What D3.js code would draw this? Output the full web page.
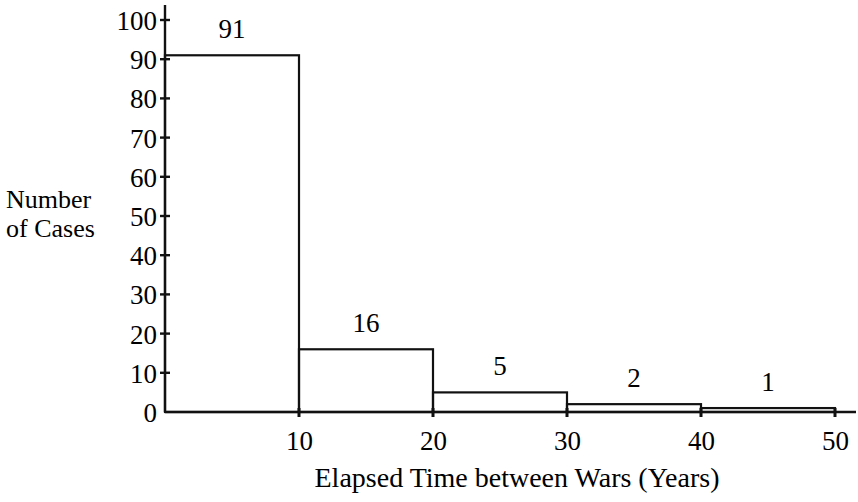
<!DOCTYPE html>
<html>
<head>
<meta charset="utf-8">
<script src="https://cdn.jsdelivr.net/npm/d3@7"></script>
<style>
  html, body { margin: 0; padding: 0; background: #fff; }
  svg { display: block; }
  text { font-family: "Liberation Serif", "Times New Roman", serif; fill: #000; }
</style>
</head>
<body>
<svg id="chart" width="858" height="502"></svg>
<script>
// ---- data ----
const binStarts = [0, 10, 20, 30, 40];
const binEnds   = [10, 20, 30, 40, 50];
const counts    = [91, 16, 5, 2, 1];
const xTickValues = [10, 20, 30, 40, 50];
const yTickValues = [0, 10, 20, 30, 40, 50, 60, 70, 80, 90, 100];
const xTitle = "Elapsed Time between Wars (Years)";
const yTitleLines = ["Number", "of Cases"];

// ---- layout ----
const svg = d3.select("#chart");
const x = d3.scaleLinear().domain([0, 50]).range([165, 835]);
const y = d3.scaleLinear().domain([0, 100]).range([412, 20]);
const stroke = "#111";

// bars (outline only)
const bins = counts.map((c, i) => ({ x0: binStarts[i], x1: binEnds[i], v: c }));
svg.append("g").selectAll("rect").data(bins).join("rect")
  .attr("x", d => x(d.x0))
  .attr("y", d => y(d.v))
  .attr("width", d => x(d.x1) - x(d.x0))
  .attr("height", d => y(0) - y(d.v))
  .attr("fill", "none")
  .attr("stroke", stroke)
  .attr("stroke-width", 2.2);

// value labels
svg.append("g").selectAll("text").data(bins).join("text")
  .attr("x", d => (x(d.x0) + x(d.x1)) / 2)
  .attr("y", d => y(d.v) - 17)
  .attr("text-anchor", "middle")
  .attr("font-size", 27)
  .text(d => d.v);

// y axis
const yAxis = d3.axisLeft(y).tickValues(yTickValues).tickSize(0).tickPadding(8);
const gy = svg.append("g").attr("transform", `translate(${x(0)},0)`).call(yAxis);
gy.select(".domain").remove();
gy.selectAll("text").attr("font-size", 27).attr("font-family", "Liberation Serif, serif").attr("dy", "0.35em");
svg.append("line").attr("x1", x(0)).attr("x2", x(0)).attr("y1", 5).attr("y2", y(0))
  .attr("stroke", stroke).attr("stroke-width", 2.4);
svg.append("g").selectAll("line").data(yTickValues.filter(v => v > 0)).join("line")
  .attr("x1", x(0) - 5).attr("x2", x(0) + 5)
  .attr("y1", d => y(d)).attr("y2", d => y(d))
  .attr("stroke", stroke).attr("stroke-width", 2.4);

// x axis
const xAxis = d3.axisBottom(x).tickValues(xTickValues).tickSize(0).tickPadding(19);
const gx = svg.append("g").attr("transform", `translate(0,${y(0)})`).call(xAxis);
gx.select(".domain").remove();
gx.selectAll("text").attr("font-size", 27).attr("font-family", "Liberation Serif, serif").attr("dy", "0.71em");
svg.append("line").attr("x1", x(0)).attr("x2", 856).attr("y1", y(0)).attr("y2", y(0))
  .attr("stroke", stroke).attr("stroke-width", 2.4);
svg.append("g").selectAll("line").data(xTickValues).join("line")
  .attr("x1", d => x(d)).attr("x2", d => x(d))
  .attr("y1", y(0) - 4).attr("y2", y(0) + 5)
  .attr("stroke", stroke).attr("stroke-width", 3);

// titles
svg.append("text")
  .attr("x", 517).attr("y", 487)
  .attr("text-anchor", "middle")
  .attr("font-size", 28)
  .text(xTitle);

svg.append("text")
  .attr("font-size", 26)
  .selectAll("tspan").data(yTitleLines).join("tspan")
  .attr("x", 6)
  .attr("y", (d, i) => 208 + i * 29)
  .text(d => d);
</script>
</body>
</html>
